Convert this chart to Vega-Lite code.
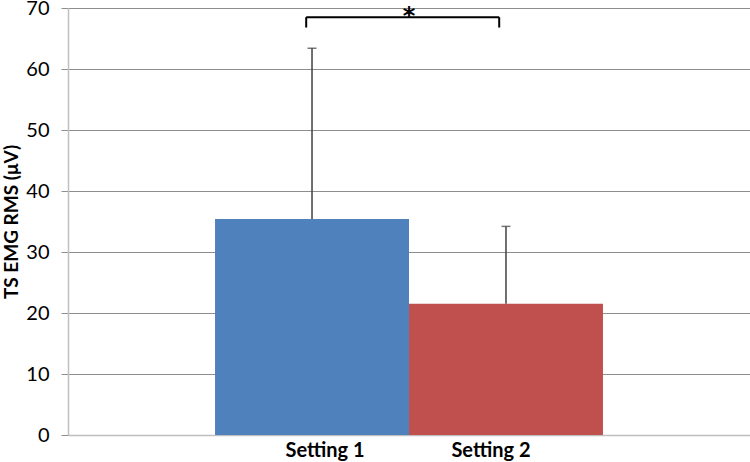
{
  "$schema": "https://vega.github.io/schema/vega-lite/v6.json",
  "autosize": {"type": "none"},
  "width": 682,
  "height": 427,
  "padding": {"left": 68, "top": 8, "right": 0, "bottom": 27},
  "background": "white",
  "config": {"view": {"stroke": null}},
  "datasets": {
    "bars": [
      {"setting": "Setting 1", "mean": 35.4, "upper": 63.4},
      {"setting": "Setting 2", "mean": 21.5, "upper": 34.2}
    ],
    "bracket": [
      {"from": "Setting 1", "to": "Setting 2", "y": 68.5, "ylow": 66.8, "label": "*", "ystar": 69.7}
    ]
  },
  "layer": [
    {
      "data": {"name": "bars"},
      "mark": {"type": "bar"},
      "encoding": {
        "x": {
          "field": "setting", "type": "nominal",
          "scale": {"paddingInner": 0, "paddingOuter": 0.758},
          "axis": {
            "title": null, "labelAngle": 0, "labelFont": "Lato", "labelFontWeight": "bold",
            "labelFontSize": 20, "labelColor": "#000000", "labelPadding": 5, "ticks": false,
            "labelOffset": {"condition": {"test": "datum.value === 'Setting 1'", "value": 13}, "value": -15},
            "domainColor": "#BFBFBF", "domainWidth": 1.5
          }
        },
        "y": {
          "field": "mean", "type": "quantitative",
          "scale": {"domain": [0, 70], "nice": false},
          "axis": {
            "title": "TS EMG RMS (μV)", "titleFont": "Lato", "titleFontSize": 19, "titleFontWeight": "bold",
            "titleColor": "#000000", "titlePadding": 4,
            "values": [0, 10, 20, 30, 40, 50, 60, 70],
            "labelFont": "Lato", "labelFontSize": 20, "labelColor": "#000000", "labelPadding": 12,
            "tickSize": 7, "tickColor": "#8E8E8E", "grid": true, "gridColor": "#8E8E8E",
            "domainColor": "#BFBFBF", "domainWidth": 1.5
          }
        },
        "color": {
          "field": "setting", "type": "nominal",
          "scale": {"range": ["#4F81BD", "#C0504D"]},
          "legend": null
        }
      }
    },
    {
      "data": {"name": "bars"},
      "mark": {"type": "rule", "color": "#404040", "strokeWidth": 1.5},
      "encoding": {
        "x": {"field": "setting", "type": "nominal"},
        "y": {"field": "mean", "type": "quantitative"},
        "y2": {"field": "upper"}
      }
    },
    {
      "data": {"name": "bars"},
      "mark": {"type": "tick", "orient": "horizontal", "color": "#404040", "size": 9, "thickness": 1.5},
      "encoding": {
        "x": {"field": "setting", "type": "nominal"},
        "y": {"field": "upper", "type": "quantitative"}
      }
    },
    {
      "data": {"name": "bracket"},
      "mark": {"type": "rule", "color": "#000000", "strokeWidth": 2},
      "encoding": {
        "x": {"field": "from", "type": "nominal", "bandPosition": 0.47},
        "x2": {"field": "to", "bandPosition": 0.465},
        "y": {"field": "y", "type": "quantitative"}
      }
    },
    {
      "data": {"name": "bracket"},
      "mark": {"type": "rule", "color": "#000000", "strokeWidth": 2},
      "encoding": {
        "x": {"field": "from", "type": "nominal", "bandPosition": 0.47},
        "y": {"field": "y", "type": "quantitative"},
        "y2": {"field": "ylow"}
      }
    },
    {
      "data": {"name": "bracket"},
      "mark": {"type": "rule", "color": "#000000", "strokeWidth": 2},
      "encoding": {
        "x": {"field": "to", "type": "nominal", "bandPosition": 0.465},
        "y": {"field": "y", "type": "quantitative"},
        "y2": {"field": "ylow"}
      }
    },
    {
      "data": {"name": "bracket"},
      "mark": {"type": "text", "font": "DejaVu Sans", "fontSize": 24, "fontWeight": "bold", "color": "#000000", "baseline": "middle", "dy": 7},
      "encoding": {
        "x": {"field": "to", "type": "nominal", "bandPosition": 0},
        "y": {"field": "ystar", "type": "quantitative"},
        "text": {"field": "label"}
      }
    }
  ]
}
